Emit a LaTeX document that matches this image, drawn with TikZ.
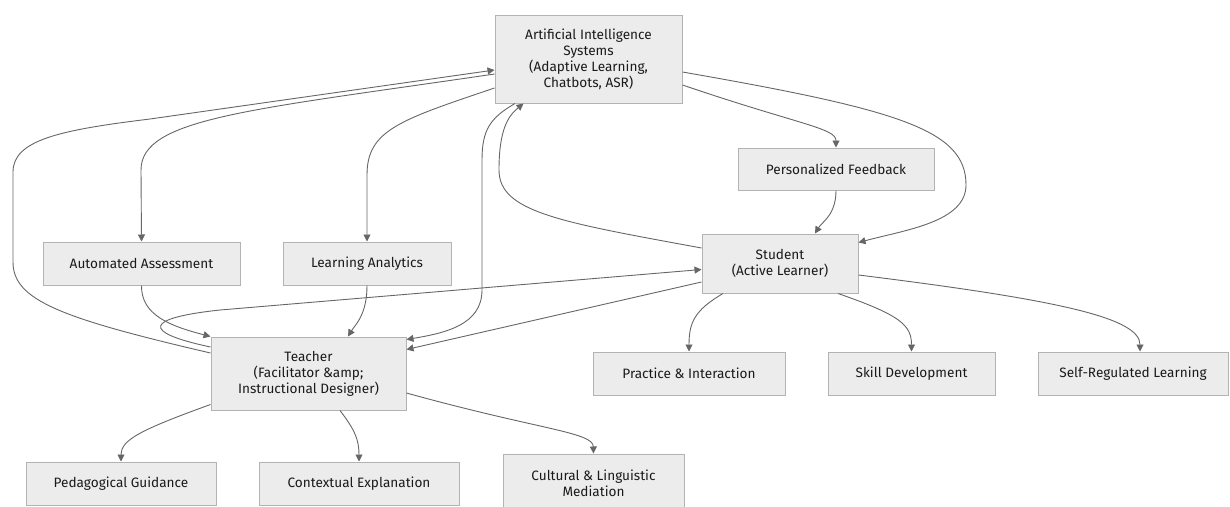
\documentclass[tikz,border=0pt]{standalone}
\usepackage{fontspec}
\setmainfont{Fira Sans}
\usetikzlibrary{arrows.meta}
\definecolor{boxfill}{HTML}{ECECEC}
\definecolor{boxline}{HTML}{B3B3B3}
\definecolor{edgecol}{HTML}{666666}
\definecolor{txt}{HTML}{1A1A1A}
\begin{document}
\begin{tikzpicture}[x=1pt,y=-1pt,
  box/.style={draw=boxline, fill=boxfill, line width=1pt, text=txt,
    font=\fontsize{13.6}{16}\selectfont, align=center, inner sep=0pt},
  link/.style={draw=edgecol, line width=0.9pt, -{Triangle[length=7pt,width=7pt]}}]
\useasboundingbox (0,0) rectangle (1230,506);
% nodes
\node[box, minimum width=187pt, minimum height=88pt] (ai) at (588.5,59) {Artificial Intelligence\\Systems\\(Adaptive Learning,\\Chatbots, ASR)};
\node[box, minimum width=196pt, minimum height=42pt] (pf) at (836,169) {Personalized Feedback};
\node[box, minimum width=156pt, minimum height=59pt] (st) at (780,263.5) {Student\\(Active Learner)};
\node[box, minimum width=197pt, minimum height=43pt] (aa) at (141.5,263.5) {Automated Assessment};
\node[box, minimum width=168pt, minimum height=43pt] (la) at (367,263.5) {Learning Analytics};
\node[box, minimum width=195pt, minimum height=73pt] (te) at (308.5,373.5) {Teacher\\(Facilitator \&amp;\\Instructional Designer)};
\node[box, minimum width=192pt, minimum height=43pt] (pr) at (689,373.5) {Practice \& Interaction};
\node[box, minimum width=167pt, minimum height=43pt] (sk) at (911.5,373.5) {Skill Development};
\node[box, minimum width=190pt, minimum height=43pt] (sr) at (1133,373.5) {Self-Regulated Learning};
\node[box, minimum width=190pt, minimum height=43pt] (pg) at (121,483.5) {Pedagogical Guidance};
\node[box, minimum width=200pt, minimum height=43pt] (ce) at (359,483.5) {Contextual Explanation};
\node[box, minimum width=181pt, minimum height=59pt] (cm) at (593.5,483.5) {Cultural \& Linguistic\\Mediation};
% edges
\draw[link] ([yshift=-26pt]ai.east) .. controls (800,125) and (836,128) .. (pf.north);
\draw[link] ([yshift=-13pt]ai.east) .. controls (900,110) and (966,130) .. (966,185) .. controls (966,222) and (905,230) .. ([yshift=21pt]st.east);
\draw[link] (pf.south) .. controls (836,215) and (822,222) .. ([xshift=35pt]st.north);
\draw[link] ([yshift=15.5pt]st.west) .. controls (560,222) and (499,212) .. (499,170) .. controls (499,130) and (508,116) .. ([xshift=-65pt]ai.south);
\draw[link] ([yshift=-15pt]ai.west) .. controls (250,110) and (141,118) .. (141,170) -- (aa.north);
\draw[link] ([yshift=-29pt]ai.west) .. controls (400,120) and (367,130) .. (367,175) -- (la.north);
\draw[link] ([xshift=-73.5pt]ai.south) .. controls (490,118) and (482,130) .. (482,160) -- (482,290) .. controls (482,325) and (445,333) .. ([yshift=-3pt]te.north east);
\draw[link] ([yshift=20.5pt]te.west) .. controls (60,318) and (13,300) .. (13,262) -- (13,172) .. controls (13,140) and (60,130) .. (150,119) -- ([yshift=-11pt]ai.west);
\draw[link] (aa.south) .. controls (141,315) and (170,326) .. (te.north west);
\draw[link] (la.south) .. controls (367,315) and (355,325) .. ([xshift=39.5pt]te.north);
\draw[link] ([yshift=26.5pt]te.west) .. controls (140,332) and (145,318) .. (220,310) -- ([yshift=-6pt]st.west);
\draw[link] ([yshift=-18.5pt]st.west) -- ([yshift=24pt]te.east);
\draw[link] ([yshift=-31pt]te.west) .. controls (140,430) and (121,440) .. (pg.north);
\draw[link] ([xshift=31.5pt]te.south) .. controls (355,430) and (359,440) .. (ce.north);
\draw[link] ([yshift=-19.5pt]te.east) .. controls (540,430) and (593,432) .. (cm.north);
\draw[link] ([xshift=-57pt]st.south) .. controls (695,310) and (689,322) .. (pr.north);
\draw[link] ([xshift=58pt]st.south) .. controls (900,315) and (911.5,325) .. (sk.north);
\draw[link] ([yshift=-11.5pt]st.east) .. controls (1060,300) and (1140,318) .. ([xshift=7pt]sr.north);
\end{tikzpicture}
\end{document}
